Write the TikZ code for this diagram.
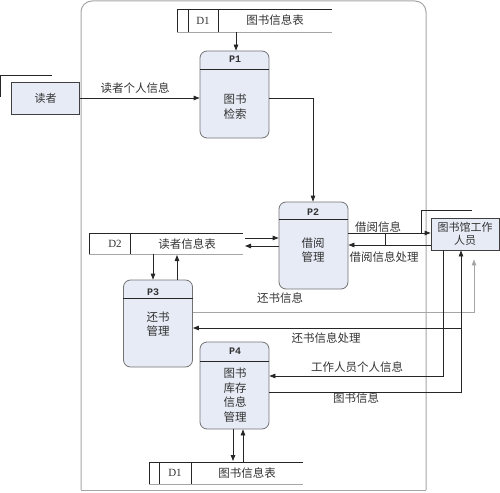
\documentclass[tikz,border=0pt]{standalone}
\usepackage{fontspec}
\setmainfont{Liberation Serif}
\setmonofont{Liberation Mono}
\newfontfamily\cjk{Noto Sans CJK SC}
\usetikzlibrary{arrows.meta}
\definecolor{boxfill}{HTML}{E6EBF5}
\definecolor{txt}{HTML}{333333}
\begin{document}
\begin{tikzpicture}[x=1pt,y=-1pt,
  line width=0.8pt,
  ent/.style={draw=black!75, fill=boxfill, minimum width=68pt, minimum height=32pt, inner sep=0pt,
    font=\cjk\fontsize{11}{13}\selectfont, text=txt, align=center},
  proc/.style={draw=black!55, fill=boxfill, rounded corners=7pt, minimum width=69pt, minimum height=87pt, inner sep=0pt},
  ptxt/.style={font=\cjk\fontsize{11.5}{14.5}\selectfont, text=txt, align=center, inner sep=0pt},
  pid/.style={font=\ttfamily\bfseries\fontsize{10}{12}\selectfont, text=txt, inner sep=0pt},
  lbl/.style={font=\cjk\fontsize{11.5}{13}\selectfont, text=txt, inner sep=0pt},
  sid/.style={font=\fontsize{11}{13}\selectfont, text=txt, inner sep=0pt},
  arr/.style={draw=black!85, -{Triangle[length=6pt,width=4.5pt]}},
  garr/.style={draw=black!35, -{Triangle[length=6pt,width=4.5pt]}},
  dark/.style={draw=black!85},
  light/.style={draw=black!35}
]
\useasboundingbox (0,0) rectangle (500,492);
% system boundary
\draw[draw=black!35, line width=1pt, rounded corners=11pt] (81,490) -- (81,1) -- (426,1) -- (426,490);
\draw[draw=black!35, line width=1pt] (81,490) -- (426,490);

% external entities
\draw[dark] (52,75) -- (0.5,75) -- (0.5,97);
\node[ent] (reader) at (45.5,98) {读者};
\draw[dark] (472,210) -- (421,210) -- (421,233);
\node[ent, minimum width=68pt] (staff) at (465,234) {图书馆工作\\人员};

% processes
\node[proc] (p1) at (234.5,94.5) {};
\draw[dark] (p1.west |- 0,69) -- (p1.east |- 0,69);
\node[pid] (p1id) at (235,59) {P1};
\node[ptxt] (p1t) at (235,106.5) {图书\\检索};

\node[proc] (p2) at (313.5,245.5) {};
\draw[dark] (p2.west |- 0,219) -- (p2.east |- 0,219);
\node[pid] (p2id) at (313,212) {P2};
\node[ptxt] (p2t) at (313,250) {借阅\\管理};

\node[proc] (p3) at (158,323.5) {};
\draw[dark] (p3.west |- 0,298) -- (p3.east |- 0,298);
\node[pid] (p3id) at (153,292) {P3};
\node[ptxt] (p3t) at (158,324) {还书\\管理};

\node[proc] (p4) at (234.5,385.5) {};
\draw[dark] (p4.west |- 0,361) -- (p4.east |- 0,361);
\node[pid] (p4id) at (235,351) {P4};
\node[ptxt] (p4t) at (235,395) {图书\\库存\\信息\\管理};

% data stores
\draw[dark] (177,9) -- (332,9);
\draw[light] (177,32) -- (332,32);
\draw[dark] (177,9) -- (177,32) (188,9) -- (188,32) (218,9) -- (218,32);
\node[sid] (d1aid) at (203,20.5) {D1};
\node[lbl] (d1a) at (275,20.5) {图书信息表};
\coordinate (d1a-s) at (236,32);

\draw[dark] (89,233) -- (243,233);
\draw[light] (89,254) -- (243,254);
\draw[dark] (89,233) -- (89,254) (130,233) -- (130,254);
\node[sid] (d2id) at (115,244) {D2};
\node[lbl] (d2) at (187,244) {读者信息表};
\coordinate (d2-e) at (245,0);
\coordinate (d2-s) at (0,254);

\draw[dark] (149,462) -- (303,462);
\draw[light] (149,484) -- (303,484);
\draw[dark] (149,462) -- (149,484) (159,462) -- (159,484) (191,462) -- (191,484);
\node[sid] (d1bid) at (175,473) {D1};
\node[lbl] (d1b) at (247,473) {图书信息表};
\coordinate (d1b-n) at (0,461);

% flows
\draw[arr] (reader.east) -- (reader.east -| p1.west);
\node[lbl] (f1) at (135,88) {读者个人信息};

\draw[arr] (d1a-s) -- (d1a-s |- p1.north);

\draw[arr] (p1.east |- 0,98) -- (313,98) -- (p2.north -| 313,0);

\draw[arr] (d2-e |- 0,238) -- (p2.west |- 0,238);
\draw[arr] (p2.west |- 0,246) -- (d2-e |- 0,246);

\draw[arr] (153,254) -- (153,0 |- p3.north);
\draw[arr] (177,0 |- p3.north) -- (177,255);

\draw[arr] (p2.east |- 0,233) -- (staff.west |- 0,233);
\node[lbl] (f2) at (378,227) {借阅信息};
\draw[arr] (staff.west |- 0,245) -- (p2.east |- 0,245);
\draw[dark] (385,233) -- (385,245);
\node[lbl] (f3) at (384,257) {借阅信息处理};

\draw[garr, shorten >=9pt] (p3.east |- 0,312) -- (474,312) -- (474,0 |- staff.south);
\node[lbl] (f4) at (280,298) {还书信息};

\coordinate (rp) at (461,328);
\draw[arr] (rp) -- (p3.east |- rp);
\node[lbl] (f5) at (326,338) {还书信息处理};

\draw[arr] (443,0 |- staff.south) -- (443,376) -- (p4.east |- 0,376);
\node[lbl] (f6) at (357,367) {工作人员个人信息};

\draw[arr] (p4.east |- 0,392) -- (461,392) -- (461,0 |- staff.south);
\node[lbl] (f7) at (356,398) {图书信息};

\draw[arr] (233,0 |- p4.south) -- (233,461);
\draw[arr] (243,462) -- (243,0 |- p4.south);
\end{tikzpicture}
\end{document}
